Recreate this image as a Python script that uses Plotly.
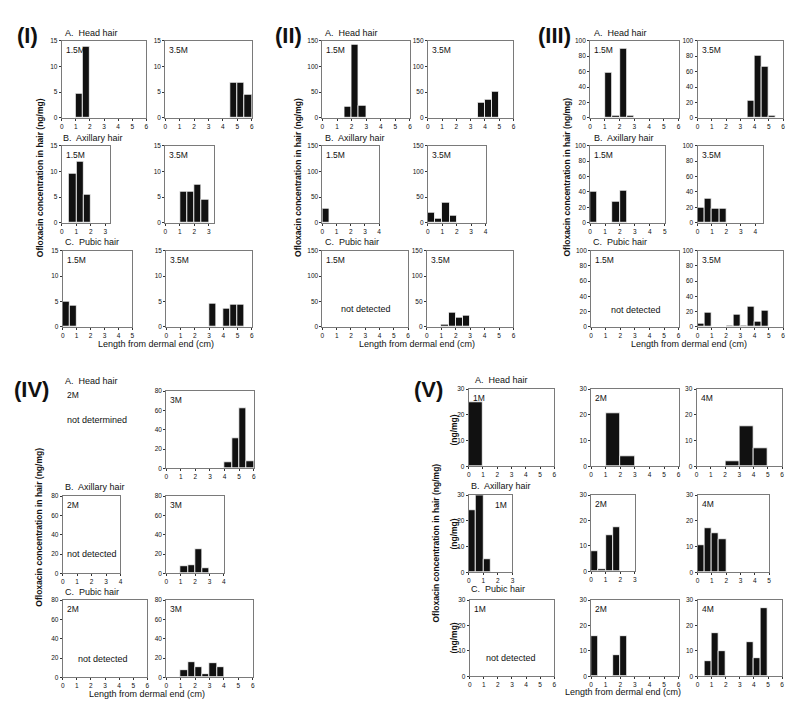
import plotly.graph_objects as go

# ---------------- data ----------------
# Panel (I)
I_A15_x = [1.25, 1.75]; I_A15_y = [4.7, 13.8]
I_A35_x = [4.75, 5.25, 5.75]; I_A35_y = [6.8, 6.8, 4.5]
I_B15_x = [0.75, 1.25, 1.75]; I_B15_y = [9.6, 11.8, 5.5]
I_B35_x = [1.25, 1.75, 2.25, 2.75]; I_B35_y = [6.0, 6.0, 7.4, 4.6]
I_C15_x = [0.25, 0.75]; I_C15_y = [5.0, 4.2]
I_C35_x = [3.25, 4.25, 4.75, 5.25]; I_C35_y = [4.6, 3.5, 4.3, 4.4]
# Panel (II)
II_A15_x = [1.75, 2.25, 2.75]; II_A15_y = [22, 143, 23]
II_A35_x = [3.75, 4.25, 4.75]; II_A35_y = [30, 36, 50]
II_B15_x = [0.25]; II_B15_y = [27]
II_B35_x = [0.25, 0.75, 1.25, 1.75]; II_B35_y = [20, 8, 40, 15]
II_C35_x = [1.25, 1.75, 2.25, 2.75]; II_C35_y = [5, 28, 19, 22]
# Panel (III)
III_A15_x = [1.25, 1.75, 2.25, 2.75]; III_A15_y = [59, 3, 89, 3]
III_A35_x = [3.75, 4.25, 4.75, 5.25]; III_A35_y = [22, 81, 66, 3]
III_B15_x = [0.25, 1.75, 2.25]; III_B15_y = [40, 27, 42]
III_B35_x = [0.25, 0.75, 1.25, 1.75]; III_B35_y = [20, 31, 18, 18]
III_C35_x = [0.25, 0.75, 2.25, 2.75, 3.25, 3.75, 4.25, 4.75]
III_C35_y = [4, 19, 2, 16, 2, 27, 7, 21]
# Panel (IV)
IV_A3_x = [4.25, 4.75, 5.25, 5.75]; IV_A3_y = [6, 31, 62, 7]
IV_B3_x = [1.25, 1.75, 2.25, 2.75]; IV_B3_y = [7, 9, 25, 5]
IV_C3_x = [1.25, 1.75, 2.25, 2.75, 3.25, 3.75]; IV_C3_y = [8, 16, 11, 3, 15, 11]
# Panel (V)
V_A1_x = [0.5]; V_A1_y = [25]
V_A2_x = [1.5, 2.5]; V_A2_y = [20.5, 4]
V_A4_x = [2.5, 3.5, 4.5]; V_A4_y = [2, 15.5, 7]
V_B1_x = [0.25, 0.75, 1.25]; V_B1_y = [24, 30, 5]
V_B2_x = [0.25, 0.75, 1.25, 1.75]; V_B2_y = [8, 1, 14.3, 17.5]
V_B4_x = [0.25, 0.75, 1.25, 1.75]; V_B4_y = [10.5, 17, 15.3, 13]
V_C2_x = [0.25, 1.75, 2.25]; V_C2_y = [16, 8.5, 15.8]
V_C4_x = [0.75, 1.25, 1.75, 3.75, 4.25, 4.75]; V_C4_y = [6, 17, 10, 13.5, 7, 27]
# empty panels (not detected)
EMPTY_x = []; EMPTY_y = []

# tick labels
TICKS_15 = [0, 5, 10, 15]
TICKS_150 = [0, 50, 100, 150]
TICKS_100 = [0, 20, 40, 60, 80, 100]
TICKS_80 = [0, 20, 40, 60, 80]
TICKS_30 = [0, 10, 20, 30]

Y_LABEL = "Ofloxacin concentration in hair (ng/mg)"
X_LABEL = "Length from dermal end (cm)"

# ---------------- figure ----------------
W, H = 800, 703
FONT = "Arial, Liberation Sans, sans-serif"
fig = go.Figure()
ann = []
n = [0]


def px(x, y):
    return x / W, 1 - y / H


def text(x, y, s, size=9, bold=False, xanchor="center", yanchor="middle", angle=0):
    X, Y = px(x, y)
    if bold:
        s = "<b>" + s + "</b>"
    ann.append(dict(x=X, y=Y, xref="paper", yref="paper", text=s, showarrow=False,
                    xanchor=xanchor, yanchor=yanchor, textangle=angle,
                    font=dict(size=size, family=FONT, color="#111")))


def panel(box, xmax, ymax, yt, xs=EMPTY_x, ys=EMPTY_y, bw=0.5, tag=None, tag_right=False):
    n[0] += 1
    i = n[0]
    l, t, r, b = box
    sx = "" if i == 1 else str(i)
    xa = dict(domain=[l / W, r / W], range=[0, xmax],
              tickvals=list(range(0, int(xmax) + 1)), anchor="y" + sx)
    ya = dict(domain=[1 - b / H, 1 - t / H], range=[0, ymax], tickvals=yt, anchor="x" + sx)
    common = dict(showline=True, mirror=True, linecolor="#7a7a7a", linewidth=1,
                  ticks="outside", ticklen=2, tickwidth=1, tickcolor="#333",
                  tickfont=dict(size=6.5, family=FONT, color="#111"),
                  showgrid=False, zeroline=False, fixedrange=True, visible=True)
    xa.update(common)
    ya.update(common)
    fig.update_layout(**{"xaxis" + sx: xa, "yaxis" + sx: ya})
    fig.add_trace(go.Bar(x=xs, y=ys, width=bw, xaxis="x" + sx, yaxis="y" + sx,
                         marker=dict(color="#111", line=dict(color="white", width=0.8)),
                         showlegend=False, hoverinfo="skip"))
    if tag:
        if tag_right:
            text(r - 3, t + 3, tag, size=8.5, xanchor="right", yanchor="top")
        else:
            text(l + 2, t + 2, tag, size=8.5, xanchor="left", yanchor="top")


# ----- Panel I -----
panel((52, 29, 137, 107), 6, 15, TICKS_15, I_A15_x, I_A15_y, tag="1.5M")
panel((156, 29, 243, 107), 6, 15, TICKS_15, I_A35_x, I_A35_y, tag="3.5M")
panel((52, 135, 101, 213), 3.35, 15, TICKS_15, I_B15_x, I_B15_y, tag="1.5M")
panel((156, 135, 205, 213), 3.35, 15, TICKS_15, I_B35_x, I_B35_y, tag="3.5M")
panel((53, 241, 123, 318), 5, 15, TICKS_15, I_C15_x, I_C15_y, tag="1.5M")
panel((157, 241, 243, 318), 6, 15, TICKS_15, I_C35_x, I_C35_y, tag="3.5M")
text(18, 24, "(I)", size=22, bold=True)
text(53, 21, "A.  Head hair", size=9, xanchor="left")
text(51, 127, "B.  Axillary hair", size=9, xanchor="left")
text(53, 232, "C.  Pubic hair", size=9, xanchor="left")
text(30, 167, Y_LABEL, size=8.5, bold=True, angle=-90)
text(147, 335, X_LABEL, size=9)

# ----- Panel II -----
panel((314, 29, 402, 107), 6, 150, TICKS_150, II_A15_x, II_A15_y, tag="1.5M")
panel((420, 29, 506, 107), 6, 150, TICKS_150, II_A35_x, II_A35_y, tag="3.5M")
panel((314, 135, 371, 213), 4, 150, TICKS_150, II_B15_x, II_B15_y, tag="1.5M")
panel((420, 135, 478, 213), 4, 150, TICKS_150, II_B35_x, II_B35_y, tag="3.5M")
panel((314, 241, 400, 318), 6, 150, TICKS_150, tag="1.5M")
panel((419, 241, 506, 318), 6, 150, TICKS_150, II_C35_x, II_C35_y, tag="3.5M")
text(280, 24, "(II)", size=22, bold=True)
text(315, 21, "A.  Head hair", size=9, xanchor="left")
text(315, 127, "B.  Axillary hair", size=9, xanchor="left")
text(315, 232, "C.  Pubic hair", size=9, xanchor="left")
text(358, 300, "not detected", size=9)
text(290, 167, Y_LABEL, size=8.5, bold=True, angle=-90)
text(409, 335, X_LABEL, size=9)

# ----- Panel III -----
panel((583, 29, 672, 107), 6, 100, TICKS_100, III_A15_x, III_A15_y, tag="1.5M")
panel((691, 29, 777, 107), 6, 100, TICKS_100, III_A35_x, III_A35_y, tag="3.5M")
panel((583, 135, 658, 213), 5, 100, TICKS_100, III_B15_x, III_B15_y, tag="1.5M")
panel((691, 135, 757, 213), 4.55, 100, TICKS_100, III_B35_x, III_B35_y, tag="3.5M")
panel((584, 241, 672, 318), 6, 100, TICKS_100, tag="1.5M")
panel((691, 241, 777, 318), 6, 100, TICKS_100, III_C35_x, III_C35_y, tag="3.5M")
text(547, 24, "(III)", size=22, bold=True)
text(585, 21, "A.  Head hair", size=9, xanchor="left")
text(585, 127, "B.  Axillary hair", size=9, xanchor="left")
text(584, 232, "C.  Pubic hair", size=9, xanchor="left")
text(629, 301, "not detected", size=9)
text(560, 167, Y_LABEL, size=8.5, bold=True, angle=-90)
text(682, 335, X_LABEL, size=9)

# ----- Panel IV -----
panel((157, 383, 245, 461), 6, 80, TICKS_80, IV_A3_x, IV_A3_y, tag="3M")
panel((53, 489, 111, 567), 4, 80, TICKS_80, tag="2M")
panel((157, 489, 215, 567), 4, 80, TICKS_80, IV_B3_x, IV_B3_y, tag="3M")
panel((53, 594, 138, 672), 6, 80, TICKS_80, tag="2M")
panel((157, 594, 244, 672), 6, 80, TICKS_80, IV_C3_x, IV_C3_y, tag="3M")
text(22, 381, "(IV)", size=22, bold=True)
text(53, 373, "A.  Head hair", size=9, xanchor="left")
text(55, 387, "2M", size=8.5, xanchor="left")
text(87, 412, "not determined", size=9)
text(53, 480, "B.  Axillary hair", size=9, xanchor="left")
text(82, 547, "not detected", size=9)
text(53, 586, "C.  Pubic hair", size=9, xanchor="left")
text(93, 654, "not detected", size=9)
text(29, 520, Y_LABEL, size=8.5, bold=True, angle=-90)
text(138, 689, X_LABEL, size=9)

# ----- Panel V -----
panel((461, 381, 547, 459), 6, 30, TICKS_30, V_A1_x, V_A1_y, bw=1.0, tag="1M")
panel((584, 381, 672, 459), 6, 30, TICKS_30, V_A2_x, V_A2_y, bw=1.0, tag="2M")
panel((690, 381, 776, 459), 6, 30, TICKS_30, V_A4_x, V_A4_y, bw=1.0, tag="4M")
panel((461, 488, 505, 566), 3, 30, TICKS_30, V_B1_x, V_B1_y, tag="1M", tag_right=True)
panel((584, 488, 628, 565), 3, 30, TICKS_30, V_B2_x, V_B2_y, tag="2M")
panel((691, 488, 763, 566), 5, 30, TICKS_30, V_B4_x, V_B4_y, tag="4M")
panel((462, 594, 547, 671), 6, 30, TICKS_30, tag="1M")
panel((584, 594, 672, 671), 6, 30, TICKS_30, V_C2_x, V_C2_y, tag="2M")
panel((691, 594, 776, 671), 6, 30, TICKS_30, V_C4_x, V_C4_y, tag="4M")
text(421, 381, "(V)", size=22, bold=True)
text(465, 372, "A.  Head hair", size=9, xanchor="left")
text(461, 479, "B.  Axillary hair", size=9, xanchor="left")
text(461, 583, "C.  Pubic hair", size=9, xanchor="left")
text(504, 652, "not detected", size=9)
text(446, 422, "(ng/mg)", size=8.5, bold=True, angle=-90)
text(446, 527, "(ng/mg)", size=8.5, bold=True, angle=-90)
text(446, 632, "(ng/mg)", size=8.5, bold=True, angle=-90)
text(428, 536, Y_LABEL, size=8.5, bold=True, angle=-90)
text(616, 687, X_LABEL, size=9)

fig.update_layout(width=W, height=H, margin=dict(l=0, r=0, t=0, b=0),
                  paper_bgcolor="white", plot_bgcolor="white",
                  annotations=ann, bargap=0, showlegend=False,
                  font=dict(family=FONT))
fig.write_html("out.html")
